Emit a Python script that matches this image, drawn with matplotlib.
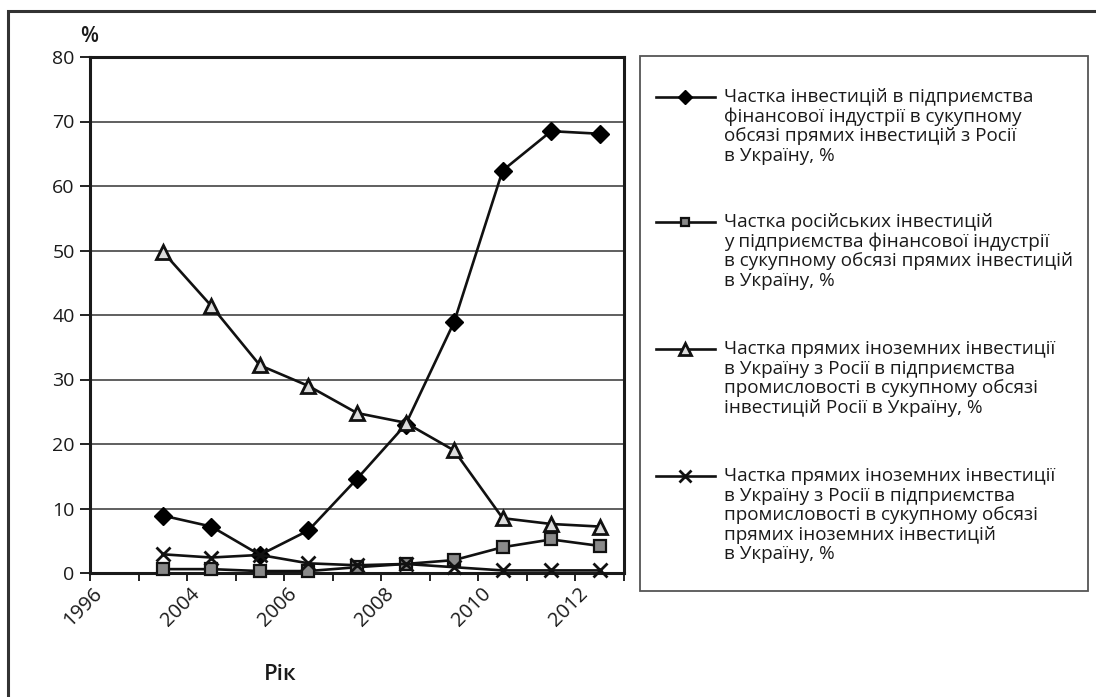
import matplotlib
matplotlib.use("Agg")
import matplotlib.pyplot as plt
from matplotlib.lines import Line2D
from matplotlib.patches import Rectangle
from matplotlib.ticker import FixedLocator

plt.rcParams['font.family'] = ['Open Sans', 'DejaVu Sans']

categories = ['1996', '2003', '2004', '2005', '2006', '2007', '2008', '2009', '2010', '2011', '2012']
shown_labels = {'1996', '2004', '2006', '2008', '2010', '2012'}
years = ['2003', '2004', '2005', '2006', '2007', '2008', '2009', '2010', '2011', '2012']

fin_share = [8.9, 7.2, 2.8, 6.6, 14.6, 23.0, 38.9, 62.4, 68.5, 68.1]
ru_fin_share = [0.6, 0.6, 0.3, 0.3, 0.9, 1.4, 2.0, 4.0, 5.2, 4.2]
ind_share = [49.8, 41.4, 32.2, 29.0, 24.8, 23.3, 19.0, 8.5, 7.6, 7.2]
ind_fdi_share = [2.9, 2.4, 2.8, 1.5, 1.2, 1.4, 0.9, 0.4, 0.4, 0.4]

legend_labels = [
    ["Частка інвестицій в підприємства", "фінансової індустрії в сукупному",
     "обсязі прямих інвестицій з Росії", "в Україну, %"],
    ["Частка російських інвестицій", "у підприємства фінансової індустрії",
     "в сукупному обсязі прямих інвестицій", "в Україну, %"],
    ["Частка прямих іноземних інвестиції", "в Україну з Росії в підприємства",
     "промисловості в сукупному обсязі", "інвестицій Росії в Україну, %"],
    ["Частка прямих іноземних інвестиції", "в Україну з Росії в підприємства",
     "промисловості в сукупному обсязі", "прямих іноземних інвестицій", "в Україну, %"],
]

W, H = 1096, 697
fig = plt.figure(figsize=(W / 100, H / 100), dpi=100)
fig.patch.set_facecolor('white')

def fx(px):
    return px / W

def fy(py):
    return 1 - py / H

ax = fig.add_axes([fx(90), fy(573), fx(624) - fx(90), fy(57) - fy(573)])

xpos = [categories.index(y) for y in years]
styles = [
    (fin_share, dict(marker='D', markersize=9, markerfacecolor='black', markeredgecolor='black')),
    (ru_fin_share, dict(marker='s', markersize=8, markerfacecolor='#8a8a8a', markeredgecolor='#111111', markeredgewidth=1.6)),
    (ind_share, dict(marker='^', markersize=10, markerfacecolor='#dcdcdc', markeredgecolor='#111111', markeredgewidth=2)),
    (ind_fdi_share, dict(marker='x', markersize=10, markeredgecolor='#111111', markeredgewidth=2)),
]
for vals, st in styles:
    ax.plot(xpos, vals, color='#111111', linewidth=1.9, zorder=3, clip_on=False, **st)

ax.set_xlim(-0.5, len(categories) - 0.5)
ax.set_ylim(0, 80)
ax.set_yticks(range(0, 81, 10))
ax.yaxis.grid(True, color='#444444', linewidth=1.2)
ax.set_axisbelow(True)

# label anchors slightly left of the category centres (as in the source layout)
label_shift = 0.45
ax.set_xticks([i - label_shift for i in range(len(categories))])
ax.set_xticklabels([c if c in shown_labels else '' for c in categories],
                   rotation=45, ha='right', va='top', rotation_mode='anchor')
ax.xaxis.set_minor_locator(FixedLocator([i - 0.5 for i in range(len(categories) + 1)]))
ax.tick_params(axis='x', which='major', length=0, pad=8, labelsize=14.5, labelcolor='#1a1a1a')
ax.tick_params(axis='x', which='minor', length=6, width=1.3, direction='out', color='#111111')
ax.tick_params(axis='y', length=7, width=1.3, direction='out', pad=4, labelsize=14,
               labelcolor='#1a1a1a', color='#111111')

for s in ['left', 'top', 'right', 'bottom']:
    ax.spines[s].set_linewidth(2.2)
    ax.spines[s].set_color('#1a1a1a')

fig.text(fx(89), fy(36), '%', fontsize=15, fontweight='semibold', ha='center', va='center', color='#1a1a1a')
fig.text(fx(280), fy(675), 'Рік', fontsize=16, fontweight='semibold', ha='center', va='center', color='#1a1a1a')

# outer frame (cropped at right and bottom)
fig.add_artist(Rectangle((fx(8), fy(720)), fx(1120) - fx(8), fy(11) - fy(720),
                         transform=fig.transFigure, fill=False, edgecolor='#333333', linewidth=2.2))

# legend box
fig.add_artist(Rectangle((fx(640), fy(591)), fx(1088) - fx(640), fy(56) - fy(591),
                         transform=fig.transFigure, fill=False, edgecolor='#555555', linewidth=1.3))

first_line_y = [97, 222, 349, 476]
line_gap = 19.6
for (vals, st), lines, y0 in zip(styles, legend_labels, first_line_y):
    fig.add_artist(Line2D([fx(656), fx(715)], [fy(y0), fy(y0)], transform=fig.transFigure,
                          color='#111111', linewidth=1.9))
    fig.add_artist(Line2D([fx(685)], [fy(y0)], transform=fig.transFigure, linestyle='none',
                          **{k: (v * 0.8 if k == 'markersize' else v) for k, v in st.items()}))
    for i, t in enumerate(lines):
        fig.text(fx(724), fy(y0 + i * line_gap), t, fontsize=13.6, ha='left', va='center', color='#1a1a1a')

fig.savefig('out.png', dpi=100, facecolor='white')
